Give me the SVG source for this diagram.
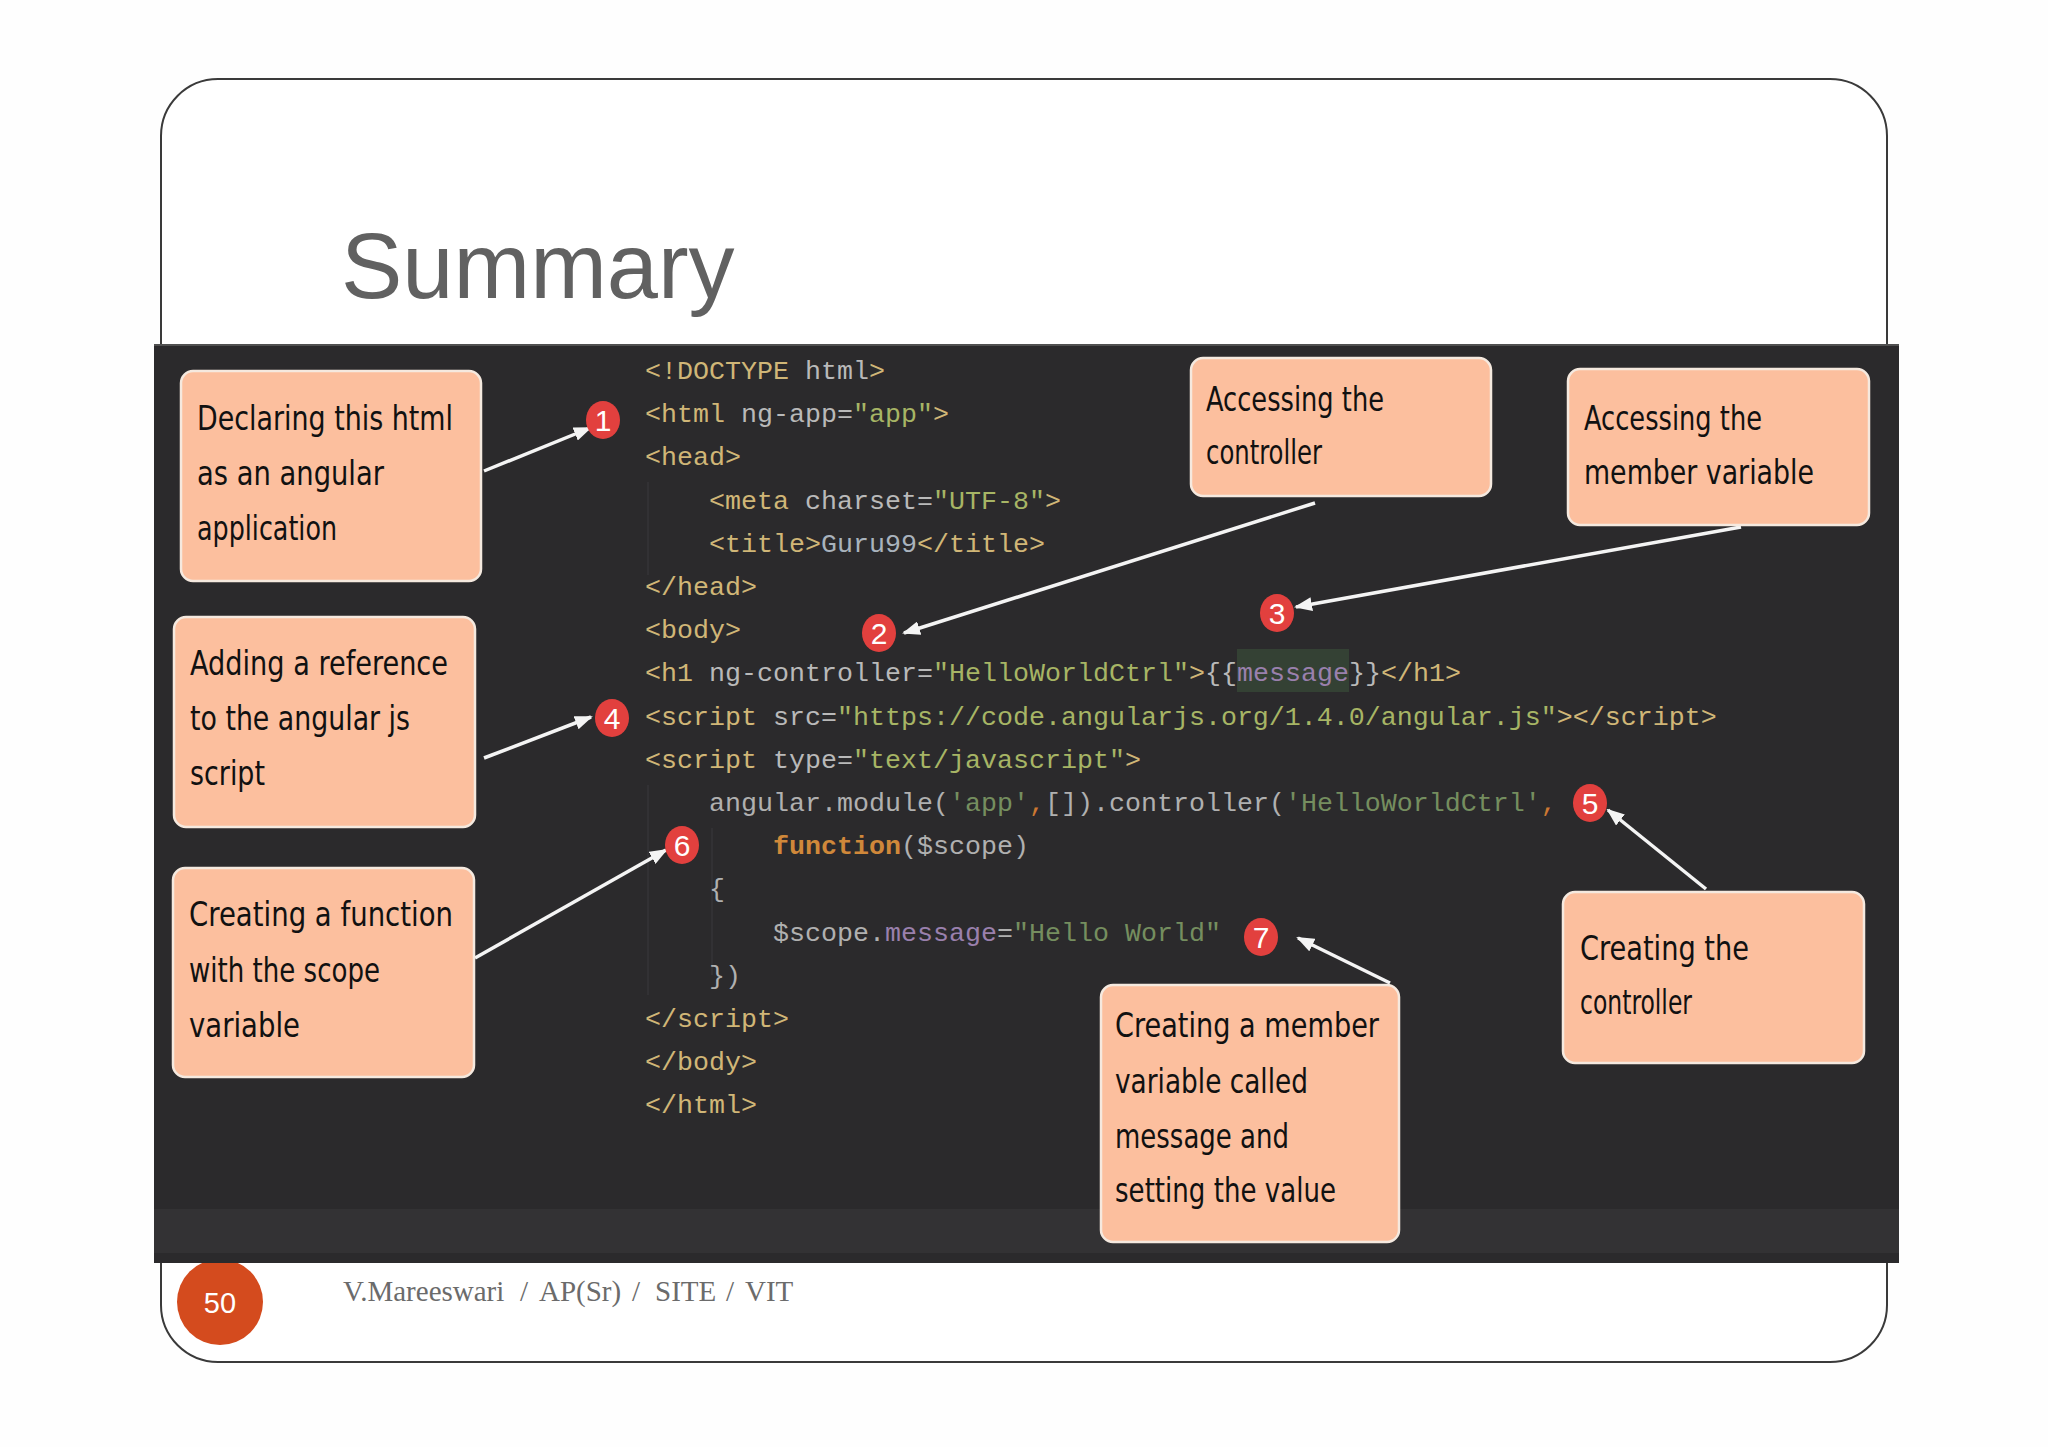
<svg xmlns="http://www.w3.org/2000/svg" width="2048" height="1447" viewBox="0 0 2048 1447">
<style>
.code{font-family:"Liberation Mono","DejaVu Sans Mono",monospace;font-size:26.667px}
.tag{fill:#d0b677}.att{fill:#b9b9b9}.str{fill:#a7b565}.js{fill:#b0b0b0}.jstr{fill:#758e5f}.kw{fill:#d0883a;font-weight:bold}.pur{fill:#9a80ad}.orn{fill:#cc7832}.txt{fill:#a9b3bd}
.note rect{fill:#fcbf9e;stroke:#f5e9df;stroke-width:2.5}
.note text{font-family:"DejaVu Sans Condensed","DejaVu Sans",sans-serif;font-stretch:condensed;font-size:33px;fill:#111}
.badge ellipse{fill:#e2403e}
.badge text{font-family:"Liberation Sans",Arial,sans-serif;font-size:30px;fill:#fff;text-anchor:middle}
.conn line{stroke:#f4f4f4;stroke-width:3.5;marker-end:url(#ah)}
.guide{stroke:#363537;stroke-width:1.5}
</style>
<defs>
<marker id="ah" markerWidth="18" markerHeight="14" refX="16" refY="7" orient="auto" markerUnits="userSpaceOnUse"><path d="M0,0 L18,7 L0,14 z" fill="#f4f4f4"/></marker>
</defs>
<rect width="2048" height="1447" fill="#fefefe"/>
<path d="M218,79 H1830 A57,57 0 0 1 1887,136 V1305 A57,57 0 0 1 1830,1362 H218 A57,57 0 0 1 161,1305 V136 A57,57 0 0 1 218,79 Z" fill="#ffffff" stroke="#3a3a3a" stroke-width="2"/>
<text x="341" y="298" font-family="Liberation Sans,Arial,sans-serif" font-size="92" fill="#616161">Summary</text>
<circle cx="220" cy="1302" r="43" fill="#d44b1e"/>
<rect x="154" y="344" width="1745" height="919" fill="#2b2a2c"/>
<rect x="154" y="344" width="1745" height="2" fill="#505050"/>
<rect x="154" y="1209" width="1745" height="44" fill="#333234"/>
<text x="220" y="1313" font-family="Liberation Sans,Arial,sans-serif" font-size="29" fill="#fff" text-anchor="middle">50</text>
<text y="1301" font-family="Liberation Serif,Times New Roman,serif" font-size="29" fill="#6b6b6b"><tspan x="343">V.Mareeswari</tspan><tspan x="520">/</tspan><tspan x="539">AP(Sr)</tspan><tspan x="632">/</tspan><tspan x="655">SITE</tspan><tspan x="726">/</tspan><tspan x="745">VIT</tspan></text>

<g id="code">
<line class="guide" x1="648" y1="482" x2="648" y2="575"/>
<line class="guide" x1="648" y1="785" x2="648" y2="995"/>
<line class="guide" x1="712" y1="828" x2="712" y2="975"/>
<rect x="1237" y="649" width="112" height="43" fill="#344134"/>
<text class="code" x="645" y="379"><tspan class="tag">&lt;!DOCTYPE</tspan><tspan class="att"> html</tspan><tspan class="tag">&gt;</tspan></text>
<text class="code" x="645" y="422.2"><tspan class="tag">&lt;html</tspan><tspan class="att"> ng-app=</tspan><tspan class="str">"app"</tspan><tspan class="tag">&gt;</tspan></text>
<text class="code tag" x="645" y="465.4">&lt;head&gt;</text>
<text class="code" x="709" y="508.6"><tspan class="tag">&lt;meta</tspan><tspan class="att"> charset=</tspan><tspan class="str">"UTF-8"</tspan><tspan class="tag">&gt;</tspan></text>
<text class="code" x="709" y="551.8"><tspan class="tag">&lt;title&gt;</tspan><tspan class="txt">Guru99</tspan><tspan class="tag">&lt;/title&gt;</tspan></text>
<text class="code tag" x="645" y="595">&lt;/head&gt;</text>
<text class="code tag" x="645" y="638.2">&lt;body&gt;</text>
<text class="code" x="645" y="681.4"><tspan class="tag">&lt;h1</tspan><tspan class="att"> ng-controller=</tspan><tspan class="str">"HelloWorldCtrl"</tspan><tspan class="tag">&gt;</tspan><tspan class="att">{{</tspan><tspan class="pur">message</tspan><tspan class="att">}}</tspan><tspan class="tag">&lt;/h1&gt;</tspan></text>
<text class="code" x="645" y="724.6"><tspan class="tag">&lt;script</tspan><tspan class="att"> src=</tspan><tspan class="str">"https://code.angularjs.org/1.4.0/angular.js"</tspan><tspan class="tag">&gt;&lt;/script&gt;</tspan></text>
<text class="code" x="645" y="767.8"><tspan class="tag">&lt;script</tspan><tspan class="att"> type=</tspan><tspan class="str">"text/javascript"</tspan><tspan class="tag">&gt;</tspan></text>
<text class="code" x="709" y="811"><tspan class="js">angular.module(</tspan><tspan class="jstr">'app'</tspan><tspan class="orn">,</tspan><tspan class="js">[]).controller(</tspan><tspan class="jstr">'HelloWorldCtrl'</tspan><tspan class="orn">,</tspan></text>
<text class="code" x="773" y="854.2"><tspan class="kw">function</tspan><tspan class="js">($scope)</tspan></text>
<text class="code js" x="709" y="897.4">{</text>
<text class="code" x="773" y="940.6"><tspan class="js">$scope.</tspan><tspan class="pur">message</tspan><tspan class="js">=</tspan><tspan class="jstr">"Hello World"</tspan></text>
<text class="code js" x="709" y="983.8">})</text>
<text class="code tag" x="645" y="1027">&lt;/script&gt;</text>
<text class="code tag" x="645" y="1070.2">&lt;/body&gt;</text>
<text class="code tag" x="645" y="1113.4">&lt;/html&gt;</text>
</g>

<g id="connectors" class="conn">
<line x1="484" y1="471" x2="590" y2="428"/>
<line x1="484" y1="758" x2="591" y2="717"/>
<line x1="1315" y1="503" x2="904" y2="633"/>
<line x1="1741" y1="527" x2="1296" y2="607"/>
<line x1="1706" y1="889" x2="1608" y2="810"/>
<line x1="475" y1="958" x2="666" y2="850"/>
<line x1="1390" y1="983" x2="1298" y2="938"/>
</g>

<g id="badge1" class="badge"><ellipse cx="603" cy="420" rx="17" ry="19"/><text x="603" y="431">1</text></g>
<g id="badge2" class="badge"><ellipse cx="879" cy="633" rx="17" ry="19"/><text x="879" y="644">2</text></g>
<g id="badge3" class="badge"><ellipse cx="1277" cy="613" rx="17" ry="19"/><text x="1277" y="624">3</text></g>
<g id="badge4" class="badge"><ellipse cx="612" cy="718" rx="17" ry="19"/><text x="612" y="729">4</text></g>
<g id="badge5" class="badge"><ellipse cx="1590" cy="803" rx="17" ry="19"/><text x="1590" y="814">5</text></g>
<g id="badge6" class="badge"><ellipse cx="682" cy="845" rx="17" ry="19"/><text x="682" y="856">6</text></g>
<g id="badge7" class="badge"><ellipse cx="1261" cy="937" rx="17" ry="19"/><text x="1261" y="948">7</text></g>

<g id="noteA" class="note"><rect x="181" y="371" width="300" height="210" rx="12"/>
<text x="197" y="430" textLength="256" lengthAdjust="spacingAndGlyphs">Declaring this html</text>
<text x="197" y="485" textLength="187" lengthAdjust="spacingAndGlyphs">as an angular</text>
<text x="197" y="540" textLength="140" lengthAdjust="spacingAndGlyphs">application</text></g>

<g id="noteB" class="note"><rect x="174" y="617" width="301" height="210" rx="12"/>
<text x="190" y="675" textLength="258" lengthAdjust="spacingAndGlyphs">Adding a reference</text>
<text x="190" y="730" textLength="220" lengthAdjust="spacingAndGlyphs">to the angular js</text>
<text x="190" y="785" textLength="75" lengthAdjust="spacingAndGlyphs">script</text></g>

<g id="noteC" class="note"><rect x="173" y="868" width="301" height="209" rx="12"/>
<text x="189" y="926" textLength="264" lengthAdjust="spacingAndGlyphs">Creating a function</text>
<text x="189" y="982" textLength="191" lengthAdjust="spacingAndGlyphs">with the scope</text>
<text x="189" y="1037" textLength="111" lengthAdjust="spacingAndGlyphs">variable</text></g>

<g id="noteD" class="note"><rect x="1191" y="358" width="300" height="138" rx="12"/>
<text x="1206" y="411" textLength="178" lengthAdjust="spacingAndGlyphs">Accessing the</text>
<text x="1206" y="464" textLength="116" lengthAdjust="spacingAndGlyphs">controller</text></g>

<g id="noteE" class="note"><rect x="1568" y="369" width="301" height="156" rx="12"/>
<text x="1584" y="430" textLength="178" lengthAdjust="spacingAndGlyphs">Accessing the</text>
<text x="1584" y="484" textLength="230" lengthAdjust="spacingAndGlyphs">member variable</text></g>

<g id="noteF" class="note"><rect x="1563" y="892" width="301" height="171" rx="12"/>
<text x="1580" y="960" textLength="169" lengthAdjust="spacingAndGlyphs">Creating the</text>
<text x="1580" y="1014" textLength="112" lengthAdjust="spacingAndGlyphs">controller</text></g>

<g id="noteG" class="note"><rect x="1101" y="985" width="298" height="257" rx="12"/>
<text x="1115" y="1037" textLength="264" lengthAdjust="spacingAndGlyphs">Creating a member</text>
<text x="1115" y="1093" textLength="193" lengthAdjust="spacingAndGlyphs">variable called</text>
<text x="1115" y="1148" textLength="174" lengthAdjust="spacingAndGlyphs">message and</text>
<text x="1115" y="1202" textLength="221" lengthAdjust="spacingAndGlyphs">setting the value</text></g>
</svg>
